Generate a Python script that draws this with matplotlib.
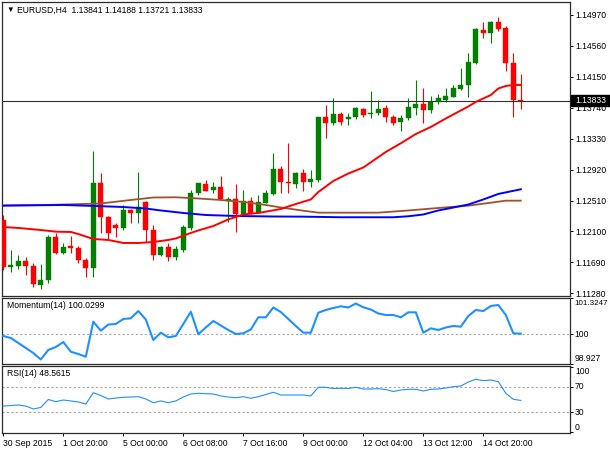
import matplotlib
matplotlib.use("Agg")
import matplotlib.pyplot as plt
from matplotlib.patches import Rectangle

plt.rcParams['font.family'] = ['Liberation Sans', 'DejaVu Sans']

# ---------------- data ----------------
symbol = "EURUSD,H4"
last_ohlc = ["1.13841", "1.14188", "1.13721", "1.13833"]
last_price = 1.13833

opens = [1.12252, 1.11629, 1.11642, 1.11712, 1.11646, 1.11390, 1.11456, 1.12030, 1.11814, 1.11901,
         1.11885, 1.11722, 1.11615, 1.12742, 1.12296, 1.12185, 1.12146, 1.12385, 1.12349, 1.12494,
         1.12119, 1.11788, 1.11898, 1.11765, 1.11854, 1.12146, 1.12610, 1.12729, 1.12650, 1.12693,
         1.12508, 1.12526, 1.12325, 1.12508, 1.12349, 1.12481, 1.12597, 1.12932, 1.12749, 1.12729,
         1.12879, 1.12760, 1.12776, 1.13614, 1.13542, 1.13653, 1.13587, 1.13614, 1.13720, 1.13661,
         1.13666, 1.13733, 1.13614, 1.13555, 1.13600, 1.13733, 1.13790, 1.13710, 1.13820, 1.13843,
         1.13887, 1.13985, 1.14042, 1.14338, 1.14771, 1.14727, 1.14881, 1.14794, 1.14338, 1.13841]
highs = [1.12319, 1.11854, 1.11788, 1.11761, 1.11682, 1.11669, 1.12053, 1.12080, 1.11947, 1.12040,
         1.11907, 1.11748, 1.13171, 1.12875, 1.12305, 1.12212, 1.12451, 1.12398, 1.12888, 1.12504,
         1.12185, 1.11907, 1.11947, 1.11907, 1.12185, 1.12650, 1.12746, 1.12782, 1.12760, 1.12835,
         1.12561, 1.12729, 1.12650, 1.12557, 1.12583, 1.12650, 1.13140, 1.12968, 1.13273, 1.12892,
         1.12924, 1.12915, 1.13622, 1.13777, 1.13866, 1.13688, 1.13675, 1.13754, 1.13733, 1.13966,
         1.13843, 1.13777, 1.13644, 1.13644, 1.13866, 1.14108, 1.13998, 1.13896, 1.13923, 1.13998,
         1.14042, 1.14263, 1.14470, 1.14794, 1.14881, 1.14885, 1.14947, 1.14824, 1.14462, 1.14188]
lows = [1.11589, 1.11562, 1.11602, 1.11523, 1.11363, 1.11337, 1.11417, 1.11801, 1.11801, 1.11814,
        1.11682, 1.11496, 1.11500, 1.12080, 1.12000, 1.12026, 1.12119, 1.12212, 1.12212, 1.11964,
        1.11722, 1.11775, 1.11712, 1.11722, 1.11832, 1.12119, 1.12583, 1.12636, 1.12610, 1.12517,
        1.12229, 1.12097, 1.12318, 1.12332, 1.12341, 1.12473, 1.12583, 1.12606, 1.12614, 1.12672,
        1.12640, 1.12685, 1.12760, 1.13335, 1.13512, 1.13512, 1.13512, 1.13595, 1.13622, 1.13600,
        1.13644, 1.13555, 1.13512, 1.13436, 1.13578, 1.13644, 1.13534, 1.13675, 1.13790, 1.13820,
        1.13879, 1.13976, 1.13887, 1.14320, 1.14661, 1.14603, 1.14762, 1.14231, 1.13614, 1.13721]
closes = [1.11629, 1.11649, 1.11712, 1.11642, 1.11403, 1.11456, 1.12030, 1.11814, 1.11898, 1.11887,
          1.11722, 1.11615, 1.12742, 1.12296, 1.12084, 1.12146, 1.12385, 1.12345, 1.12428, 1.12119,
          1.11788, 1.11898, 1.11765, 1.11867, 1.12159, 1.12614, 1.12742, 1.12640, 1.12693, 1.12526,
          1.12530, 1.12325, 1.12504, 1.12349, 1.12494, 1.12610, 1.12932, 1.12756, 1.12739, 1.12879,
          1.12760, 1.12792, 1.13614, 1.13542, 1.13653, 1.13555, 1.13622, 1.13733, 1.13644, 1.13671,
          1.13720, 1.13622, 1.13542, 1.13600, 1.13746, 1.13790, 1.13710, 1.13820, 1.13866, 1.13896,
          1.13998, 1.14042, 1.14351, 1.14780, 1.14727, 1.14881, 1.14780, 1.14330, 1.13841, 1.13833]

# moving averages, read at selected bars
ma_red_idx = [0, 2, 5, 7, 9, 10, 12, 14, 16, 18, 20, 22, 23, 25, 26, 28, 30, 32, 34, 35, 37, 39,
              41, 42, 44, 46, 48, 51, 53, 55, 57, 59, 61, 62, 63, 65, 66, 67, 68, 69]
ma_red = [1.12159, 1.12146, 1.12119, 1.12097, 1.12093, 1.12066, 1.12000, 1.11987, 1.11947, 1.11947,
          1.11960, 1.11987, 1.12007, 1.12080, 1.12113, 1.12172, 1.12259, 1.12325, 1.12345, 1.12362,
          1.12398, 1.12464, 1.12524, 1.12623, 1.12769, 1.12868, 1.12948, 1.13154, 1.13269, 1.13392,
          1.13485, 1.13598, 1.13704, 1.13757, 1.13817, 1.13909, 1.13995, 1.14029, 1.14042, 1.14042]
ma_blue_idx = [0, 8, 12, 16, 19, 21, 24, 27, 31, 36, 40, 45, 52, 54, 56, 58, 60, 62, 64, 66, 69]
ma_blue = [1.12442, 1.12451, 1.12438, 1.12424, 1.12404, 1.12378, 1.12345, 1.12318, 1.12305, 1.12298,
           1.12296, 1.12288, 1.12288, 1.12301, 1.12325, 1.12378, 1.12417, 1.12457, 1.12524, 1.12597,
           1.12659]
ma_brown_idx = [0, 6, 13, 17, 20, 23, 26, 29, 32, 35, 37, 40, 42, 50, 54, 58, 62, 65, 67, 69]
ma_brown = [1.12445, 1.12451, 1.12471, 1.12517, 1.12550, 1.12553, 1.12537, 1.12517, 1.12491, 1.12451,
            1.12418, 1.12375, 1.12349, 1.12349, 1.12378, 1.12411, 1.12442, 1.12481, 1.12508, 1.12508]

momentum = [99.944, 99.872, 99.690, 99.508, 99.327, 99.090, 99.436, 99.545, 99.726, 99.374,
            99.290, 99.192, 100.464, 100.137, 100.362, 100.380, 100.562, 100.587, 100.852, 100.544,
            99.799, 100.065, 99.898, 99.944, 100.380, 100.827, 100.006, 100.253, 100.489, 100.326,
            100.162, 100.017, 100.042, 100.181, 100.624, 100.624, 100.980, 100.816, 100.562, 100.308,
            100.064, 100.064, 100.791, 100.889, 100.962, 101.023, 100.980, 101.125, 100.987, 100.907,
            100.762, 100.707, 100.707, 100.624, 100.805, 100.805, 100.064, 100.224, 100.162, 100.253,
            100.308, 100.282, 100.671, 100.889, 100.852, 101.034, 101.070, 100.707, 100.042, 100.0299]
rsi = [39.8, 40.6, 41.4, 39.8, 35.2, 37.5, 50.0, 46.6, 49.2, 47.7,
       46.1, 43.0, 60.6, 56.3, 50.8, 52.3, 53.4, 53.9, 54.4, 50.8,
       45.0, 47.7, 45.0, 47.7, 53.9, 58.6, 59.7, 59.1, 58.6, 55.5,
       53.9, 52.8, 54.4, 51.9, 54.4, 57.8, 61.3, 57.0, 57.0, 57.0,
       57.0, 55.5, 69.1, 69.1, 67.2, 67.5, 67.2, 69.1, 66.4, 66.4,
       66.9, 65.6, 62.5, 64.8, 65.9, 65.9, 63.3, 65.9, 66.4, 68.0,
       70.0, 71.1, 77.3, 81.6, 79.4, 80.5, 77.8, 59.7, 50.3, 48.5615]

price_ticks = [1.14970, 1.14560, 1.14150, 1.13740, 1.13330, 1.12920, 1.12510, 1.12100, 1.11690, 1.11280]
mom_levels = [101.3247, 100, 98.927]
mom_texts = ["101.3247", "100", "98.927"]
rsi_labels = [100, 70, 30, 0]
date_label_bars = [0, 8, 16, 24, 32, 40, 48, 56, 64]
date_labels = ["30 Sep 2015", "1 Oct 20:00", "5 Oct 00:00", "6 Oct 08:00", "7 Oct 16:00",
               "9 Oct 00:00", "12 Oct 04:00", "13 Oct 12:00", "14 Oct 20:00"]

# ---------------- layout ----------------
W, H = 610, 450
FS = 6.2
GREEN = '#008000'
RED = '#ff0000'
FRAME = '#2b2b2b'
DOT = '#a8a8a8'
MOMC = '#1e90ff'

fig = plt.figure(figsize=(W / 100, H / 100), dpi=100)
fig.patch.set_facecolor('white')


def add_panel(top_px, bottom_px):
    left_px, right_px = 2, 569.5
    ax = fig.add_axes([left_px / W, 1 - bottom_px / H, (right_px - left_px) / W, (bottom_px - top_px) / H])
    for s in ax.spines.values():
        s.set_color(FRAME)
        s.set_linewidth(0.9)
    ax.set_xlim(-0.173, 75.49)
    ax.set_xticks([])
    ax.yaxis.tick_right()
    ax.tick_params(axis='y', direction='out', length=2.5, width=0.7, pad=2,
                   labelsize=FS, colors='black')
    return ax


# main price panel
ax = add_panel(2, 296)
ax.set_ylim(1.11244, 1.15142)
n = len(opens)
idx = list(range(n))
min_h = (1.15142 - 1.11244) / 294 * 0.9
cols = [GREEN if c > o else RED for o, c in zip(opens, closes)]
ax.vlines(idx, lows, highs, colors=cols, linewidth=0.8, zorder=2)
bottoms = [min(o, c) for o, c in zip(opens, closes)]
heights = [max(abs(c - o), min_h) for o, c in zip(opens, closes)]
ax.bar(idx, heights, bottom=bottoms, width=0.62, color=cols, edgecolor=cols, linewidth=0.3, zorder=3)
ax.axhline(last_price, color='#303030', linewidth=0.8, zorder=2.5)
ax.plot(ma_brown_idx, ma_brown, color='#a0522d', linewidth=1.3, zorder=4)
ax.plot(ma_blue_idx, ma_blue, color='#0000ff', linewidth=1.4, zorder=4)
ax.plot(ma_red_idx, ma_red, color=RED, linewidth=1.4, zorder=4)
ax.set_yticks(price_ticks)
ax.set_yticklabels([f"{p:.5f}" for p in price_ticks])

fig.text(6.5 / W, 1 - 10 / H, "\u25bc", fontsize=5.5, va='center', ha='left', color='black')
fig.text(17 / W, 1 - 10 / H, symbol + "  " + " ".join(last_ohlc), fontsize=FS, va='center', ha='left')

# current price box
cp_y = 1 - 100.7 / H
fig.patches.append(Rectangle((571 / W, cp_y - 5.5 / H), 39 / W, 11 / H, transform=fig.transFigure,
                             facecolor='black', edgecolor='black', zorder=5))
fig.text(575.5 / W, cp_y, f"{last_price:.5f}", fontsize=FS, color='white', va='center', ha='left', zorder=6)

# momentum panel
axm = add_panel(298, 364)
axm.set_ylim(98.927, 101.3247)
axm.plot(idx, momentum, color=MOMC, linewidth=1.5, zorder=3)
axm.axhline(100, color=DOT, linewidth=0.8, linestyle=(0, (2, 2)), zorder=1)
axm.set_yticks(mom_levels)
axm.set_yticklabels([])
for v, txt, va in zip(mom_levels, mom_texts, ['top', 'center', 'bottom']):
    dy = -1.5 if va == 'top' else (1 if va == 'bottom' else 0)
    axm.annotate(txt, xy=(1, v), xycoords=('axes fraction', 'data'), xytext=(3.4, dy),
                 textcoords='offset points', ha='left', va=va,
                 fontsize=5.8 if va == 'top' else FS, annotation_clip=False)
axm.text(5 / 567.5, 1 - 8 / 66, f"Momentum(14) {momentum[-1]:.4f}", transform=axm.transAxes,
         fontsize=FS, va='center', ha='left')

# RSI panel
axr = add_panel(366, 433)
axr.set_ylim(-2.3, 102.3)
axr.plot(idx, rsi, color=MOMC, linewidth=0.8, zorder=3)
for lv in (70, 30):
    axr.axhline(lv, color=DOT, linewidth=0.8, linestyle=(0, (2, 2)), zorder=1)
axr.set_yticks(rsi_labels)
axr.set_yticklabels([])
for v in rsi_labels:
    va = 'top' if v == 100 else ('bottom' if v == 0 else 'center')
    axr.annotate(f"{v}", xy=(1, v), xycoords=('axes fraction', 'data'), xytext=(4.0, 0),
                 textcoords='offset points', ha='left', va=va, fontsize=FS, annotation_clip=False)
axr.text(5 / 567.5, 1 - 8 / 67, f"RSI(14) {rsi[-1]:.4f}", transform=axr.transAxes,
         fontsize=FS, va='center', ha='left')
axr.set_xticks(date_label_bars)
axr.set_xticklabels(date_labels, ha='left')
axr.tick_params(axis='x', direction='out', length=2.5, width=0.7, pad=1.5, labelsize=FS, colors='black')

fig.savefig("out.png", dpi=100, facecolor='white')
